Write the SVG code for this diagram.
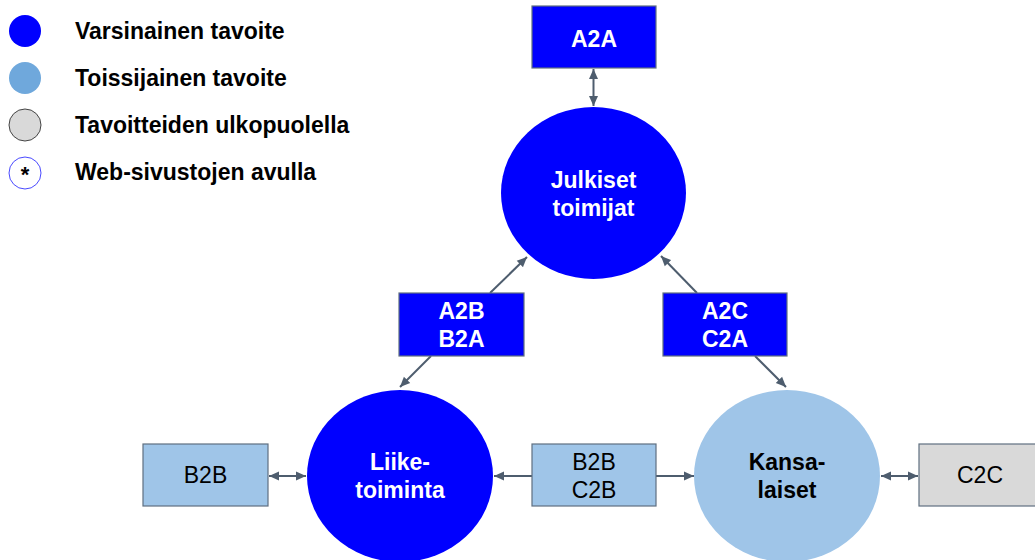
<svg xmlns="http://www.w3.org/2000/svg" width="1035" height="560" viewBox="0 0 1035 560">
  <style>
    text { font-family: "Liberation Sans", Arial, sans-serif; font-size: 23px; text-anchor: middle; }
    .b { font-weight: bold; }
    .w { fill: #ffffff; }
    .k { fill: #000000; }
    .leg { text-anchor: start; font-weight: bold; fill: #000000; }
    .primary { fill: #0000ff; }
    .secondary { fill: #9fc5e8; }
    .outside { fill: #d9d9d9; }
    .box { stroke: #5f6f80; stroke-width: 1.2; }
    .conn { stroke: #4e5d6e; stroke-width: 2; fill: none; }
  </style>
  <defs>
    <marker id="ah" viewBox="0 0 10 10" refX="10" refY="5" markerWidth="10" markerHeight="10" markerUnits="userSpaceOnUse" orient="auto-start-reverse">
      <path d="M0,0.5 L10,5 L0,9.5 Z" fill="#4e5d6e"/>
    </marker>
  </defs>

  <!-- legend -->
  <g id="legend">
    <circle cx="25" cy="31" r="16" fill="#0000ff"/>
    <text class="leg" x="75" y="39">Varsinainen tavoite</text>
    <circle cx="25" cy="78" r="16" fill="#6fa8dc"/>
    <text class="leg" x="75" y="86">Toissijainen tavoite</text>
    <circle cx="25" cy="125" r="16" fill="#d9d9d9" stroke="#444444" stroke-width="1"/>
    <text class="leg" x="75" y="133">Tavoitteiden ulkopuolella</text>
    <circle cx="25" cy="173" r="16" fill="#ffffff" stroke="#4a4aff" stroke-width="1"/>
    <text class="b k" x="25" y="182" style="font-size:22px">*</text>
    <text class="leg" x="75" y="180">Web-sivustojen avulla</text>
  </g>

  <!-- connectors -->
  <g id="connectors">
    <line class="conn" x1="593.5" y1="69" x2="593.5" y2="106" marker-start="url(#ah)" marker-end="url(#ah)"/>
    <line class="conn" x1="490" y1="293" x2="527" y2="257" marker-end="url(#ah)"/>
    <line class="conn" x1="431" y1="356" x2="400" y2="387" marker-end="url(#ah)"/>
    <line class="conn" x1="697" y1="293" x2="661" y2="256" marker-end="url(#ah)"/>
    <line class="conn" x1="755" y1="356" x2="786" y2="387" marker-end="url(#ah)"/>
    <line class="conn" x1="269" y1="476" x2="306" y2="476" marker-start="url(#ah)" marker-end="url(#ah)"/>
    <line class="conn" x1="532" y1="476" x2="494" y2="476" marker-end="url(#ah)"/>
    <line class="conn" x1="656" y1="476" x2="694" y2="476" marker-end="url(#ah)"/>
    <line class="conn" x1="881" y1="476" x2="918" y2="476" marker-start="url(#ah)" marker-end="url(#ah)"/>
  </g>

  <g id="a2a">
    <rect class="primary box" x="532" y="6" width="124" height="62"/>
    <text class="b w" x="594" y="47">A2A</text>
  </g>

  <g id="julkiset">
    <ellipse class="primary" cx="593.5" cy="193" rx="92.5" ry="86"/>
    <text class="b w" x="593.5" y="188">Julkiset</text>
    <text class="b w" x="593.5" y="216">toimijat</text>
  </g>

  <g id="a2b">
    <rect class="primary box" x="399" y="293" width="125" height="63"/>
    <text class="b w" x="461.5" y="319">A2B</text>
    <text class="b w" x="461.5" y="347">B2A</text>
  </g>

  <g id="a2c">
    <rect class="primary box" x="663" y="293" width="124" height="63"/>
    <text class="b w" x="725" y="319">A2C</text>
    <text class="b w" x="725" y="347">C2A</text>
  </g>

  <g id="liiketoiminta">
    <ellipse class="primary" cx="400" cy="476" rx="93" ry="86"/>
    <text class="b w" x="400" y="470">Liike-</text>
    <text class="b w" x="400" y="498">toiminta</text>
  </g>

  <g id="kansalaiset">
    <ellipse class="secondary" cx="787" cy="476" rx="93" ry="86"/>
    <text class="b k" x="787" y="470">Kansa-</text>
    <text class="b k" x="787" y="498">laiset</text>
  </g>

  <g id="b2b">
    <rect class="secondary box" x="143" y="444" width="125" height="62"/>
    <text class="k" x="205.5" y="483">B2B</text>
  </g>

  <g id="b2b-c2b">
    <rect class="secondary box" x="532" y="444" width="124" height="62"/>
    <text class="k" x="594" y="470">B2B</text>
    <text class="k" x="594" y="498">C2B</text>
  </g>

  <g id="c2c">
    <rect class="outside box" x="919" y="444" width="130" height="62"/>
    <text class="k" x="980" y="483">C2C</text>
  </g>
</svg>
